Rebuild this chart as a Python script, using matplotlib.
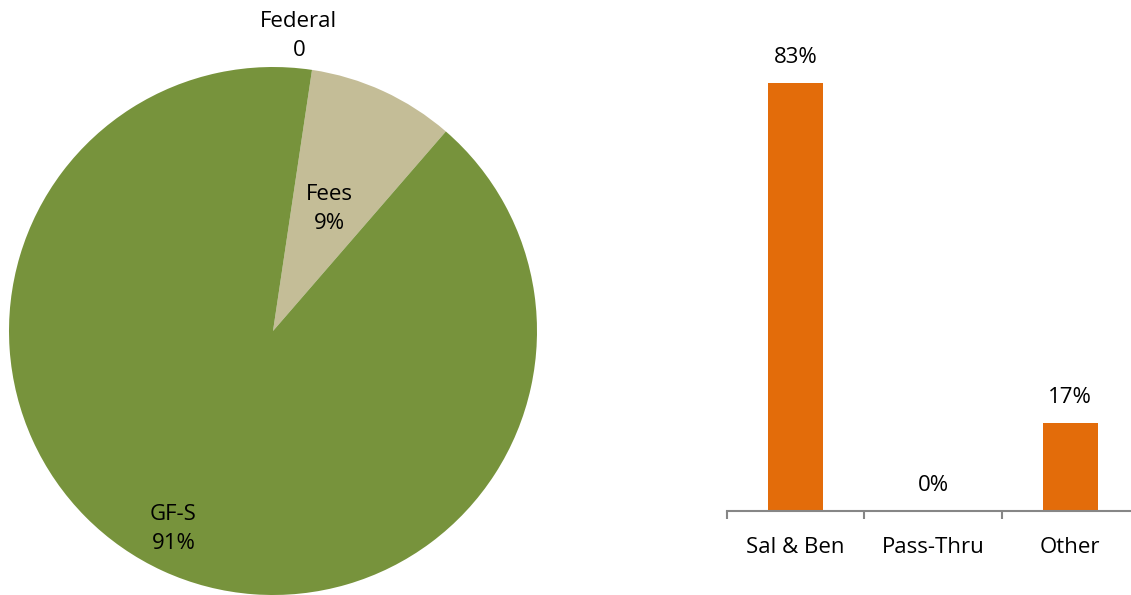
import numpy as np
import matplotlib
matplotlib.use("Agg")
import matplotlib.pyplot as plt

plt.rcParams['font.family'] = ['Open Sans', 'DejaVu Sans']

# pie data
pie_labels = ["Fees", "GF-S", "Federal"]
pie_values = [9, 91, 0]
pie_texts = ["9%", "91%", "0"]
pie_colors = ["#C4BD97", "#77933C", "#4F81BD"]
label_r = [0.51, 0.84, 1.12]
label_shift = [0, -2, 3.5]  # degrees, nudge like Excel's best fit

# bar data
bar_cats = ["Sal & Ben", "Pass-Thru", "Other"]
bar_values = [83, 0, 17]

W, H = 1131, 595
fs = 16
fig = plt.figure(figsize=(W / 100, H / 100), dpi=100)

ax1 = fig.add_axes([9 / W, 0, 528 / W, 528 / H])
wedges, _ = ax1.pie(pie_values, colors=pie_colors, startangle=81.5,
                    counterclock=False, radius=1.0,
                    wedgeprops=dict(linewidth=0))
for w, lab, txt, r, sh in zip(wedges, pie_labels, pie_texts, label_r, label_shift):
    ang = np.deg2rad((w.theta1 + w.theta2) / 2 + sh)
    ax1.text(r * np.cos(ang), r * np.sin(ang), lab + "\n" + txt,
             ha="center", va="center", fontsize=fs, color="#000000",
             linespacing=1.5)
ax1.set_xlim(-1, 1)
ax1.set_ylim(-1, 1)
ax1.set_aspect("equal")
ax1.axis("off")

ax2 = fig.add_axes([727 / W, (H - 511) / H, 412 / W, 464 / H])
x = np.arange(len(bar_cats))
ax2.bar(x, bar_values, width=0.4, color="#E36C0A")
for xi, v in zip(x, bar_values):
    ax2.text(xi, v + 3, f"{v}%", ha="center", va="bottom", fontsize=fs)
ax2.set_xlim(-0.5, 2.5)
ax2.set_ylim(0, 90)
for s in ["top", "right", "left"]:
    ax2.spines[s].set_visible(False)
ax2.spines["bottom"].set_color("#868686")
ax2.spines["bottom"].set_linewidth(1.5)
ax2.set_yticks([])
ax2.set_xticks([-0.5, 0.5, 1.5, 2.5])
ax2.set_xticklabels([])
ax2.set_xticks(x, minor=True)
ax2.set_xticklabels(bar_cats, minor=True, fontsize=fs)
ax2.tick_params(axis="x", which="major", length=6, width=1.5, color="#868686",
                direction="out")
ax2.tick_params(axis="x", which="minor", length=0, pad=19)

fig.savefig("out.png", dpi=100)
